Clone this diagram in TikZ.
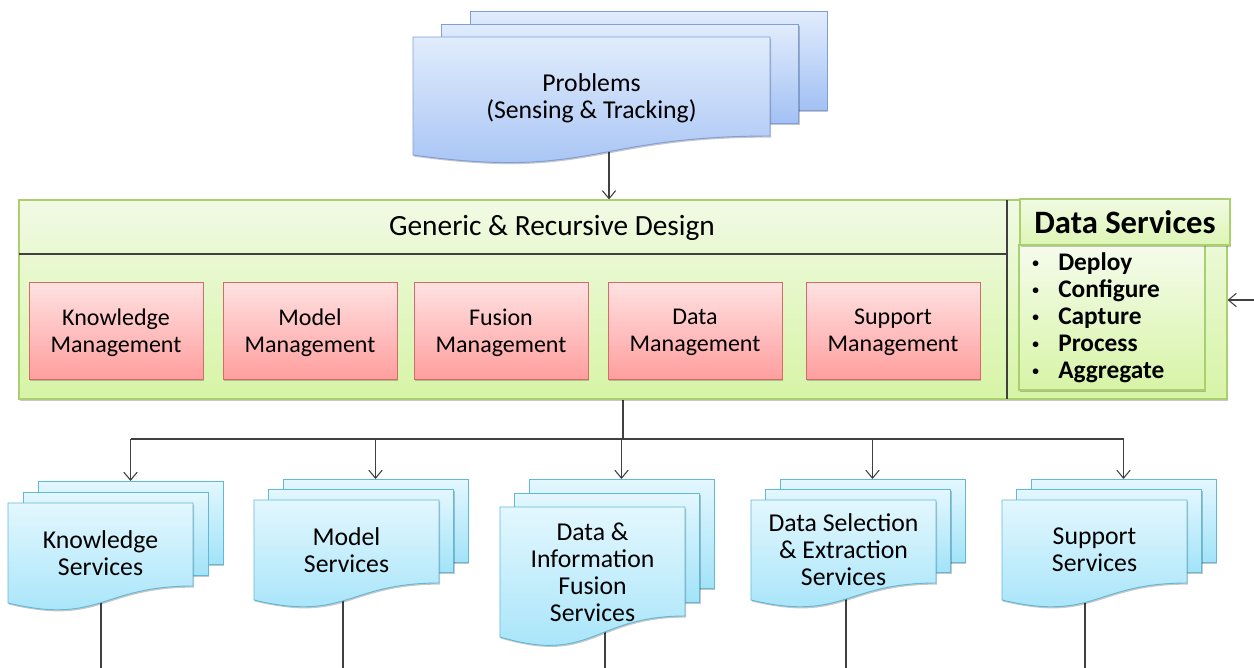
\documentclass[tikz,border=0pt]{standalone}
\usepackage{fontspec}
\setmainfont{Carlito}
\usetikzlibrary{arrows.meta}
\usetikzlibrary{fit}
\usetikzlibrary{shadows}
\definecolor{probTop}{HTML}{E1ECFC}
\definecolor{probBot}{HTML}{A3C1F4}
\definecolor{probLine}{HTML}{7E9ED8}
\definecolor{svcTop}{HTML}{E3F7FE}
\definecolor{svcBot}{HTML}{A2E3F9}
\definecolor{svcLine}{HTML}{62B9D6}
\definecolor{greenTop}{HTML}{F1FAE4}
\definecolor{greenBot}{HTML}{D7F4A6}
\definecolor{greenLine}{HTML}{A9CF6E}
\definecolor{pinkTop}{HTML}{FFE2E2}
\definecolor{pinkBot}{HTML}{FF9E9E}
\definecolor{pinkLine}{HTML}{D46A6A}
\definecolor{wire}{HTML}{404040}
\pgfdeclarelayer{bg}
\pgfsetlayers{bg,main}
\tikzstyle{softshadow}=[drop shadow={shadow xshift=0.8pt,shadow yshift=-1.2pt,fill=black,opacity=0.22}]
\tikzstyle{probdoc}=[draw=probLine,line width=0.7pt,top color=probTop,bottom color=probBot,softshadow]
\tikzstyle{svcdoc}=[draw=svcLine,line width=0.7pt,top color=svcTop,bottom color=svcBot,softshadow]
\tikzstyle{greenbox}=[draw=greenLine,line width=0.8pt,top color=greenTop,bottom color=greenBot,softshadow,inner sep=0pt]
\tikzstyle{mgmtbox}=[draw=pinkLine,line width=0.7pt,top color=pinkTop,bottom color=pinkBot,softshadow,inner sep=0pt]
\tikzstyle{mgmttext}=[align=center,inner sep=0pt,font=\fontsize{18}{20.25}\selectfont]
\tikzstyle{doctext}=[align=center,inner sep=0pt,font=\fontsize{19.3}{20.25}\selectfont]
\tikzstyle{link}=[draw=wire,line width=0.8pt]
\tikzstyle{arrowlink}=[link,-{Straight Barb[length=6pt,width=10pt]}]
\newcommand{\docstack}[9][svcdoc]{% Syntax: [style] {name}{left}{top}{width}{right depth}{left depth}{dx}{dy}
\pgfmathsetmacro{\dip}{#7+1.3*(#7-#6)} % lowest control point of the wavy edge
\foreach \k in {2,1} {
  \path[#1] (#3+\k*#8,#4-\k*#9) rectangle ++(#5,#6);
}
\path[#1] (#3,#4) -- ++(#5,0) -- ++(0,#6)
  .. controls (#3+#5/2,#4+#6) and (#3+#5/2,#4+\dip) .. (#3,#4+#7) -- cycle;
\coordinate (#2-top) at (#3+2*#8+#5/2,#4-2*#9);
\coordinate (#2-mid) at (#3+#5/2,#4+#7/2);
}
\newcommand{\dsitem}[1]{\makebox[19.5pt][l]{\raisebox{2.5pt}{\fontsize{10}{10}\selectfont\textbullet}}#1}
\begin{document}
\begin{tikzpicture}[x=0.75pt,y=-0.75pt]
\useasboundingbox (0,0) rectangle (1254,668);
% problem stack
\docstack[probdoc]{pb}{413}{37}{357}{99}{118}{28.5}{13}
\node[doctext] (pb) at ([yshift=-1.5pt]pb-mid) {Problems\\(Sensing \& Tracking)};
\coordinate (pb-out) at (609,150);
% design block
\node[greenbox,fit={(19,200) (1227,399)}] (design) {};
\draw[link] (19,254) -- (1007,254);
\draw[link] (1007,200) -- (1007,399);
\node[font=\fontsize{22}{24}\selectfont] (dtitle) at (552,228) {Generic \& Recursive Design};
\foreach \nm/\xl/\txt in {km/29/{Knowledge\\Management},mm/223/{Model\\Management},fm/414/{Fusion\\Management},dm/608/{Data\\Management},sm/806/{Support\\Management}} {
  \node[mgmtbox,fit={(\xl,282) (\xl+174,379)}] (\nm) {};
  \node[mgmttext] (\nm-txt) at ([yshift=-1.5pt]\nm.center) {\txt};
}
% data services
\node[greenbox,top color=greenTop!70!white,fit={(1019,245) (1205,390)}] (dsbody) {};
\node[greenbox,top color=greenTop,bottom color=greenBot!85!white,fit={(1020,199) (1230,245)}] (dshead) {};
\node[font=\bfseries\fontsize{24.5}{26}\selectfont] (dstitle) at (dshead.center) {Data Services};
\node[anchor=west,align=left,inner sep=0pt,font=\bfseries\fontsize{19}{20.25}\selectfont] (dslist) at (1032,318)
  {\dsitem{Deploy}\\ \dsitem{Configure}\\ \dsitem{Capture}\\ \dsitem{Process}\\ \dsitem{Aggregate}};
% service stacks
\docstack{ks}{8}{503}{185}{83}{100}{15}{11}
\docstack{ms}{254}{500}{185}{83}{100}{14.5}{10.5}
\docstack{di}{500}{507}{185}{109}{130}{14.5}{14}
\docstack{ds}{751}{500}{185}{83}{100}{14.5}{10.5}
\docstack{su}{1002}{500}{185}{83}{100}{14.5}{10.5}
\node[doctext] (ks) at (ks-mid) {Knowledge\\Services};
\node[doctext] (ms) at (ms-mid) {Model\\Services};
\node[doctext] (di) at (di-mid) {Data \&\\Information\\Fusion\\Services};
\node[doctext] (ds) at (ds-mid) {Data Selection\\\& Extraction\\Services};
\node[doctext] (su) at (su-mid) {Support\\Services};
\coordinate (bus) at (623,439);
\coordinate (feed) at (1254,300);
\begin{pgfonlayer}{bg}
\draw[arrowlink] (pb-out) -- (pb-out |- design.north);
\draw[arrowlink] (feed) -- (feed -| design.east);
\draw[link] (design.south) -- (bus);
\draw[link] (ks-top |- bus) -- (su-top |- bus);
\foreach \nm in {ks,ms,di,ds,su}
  \draw[arrowlink] (\nm-top |- bus) -- (\nm-top);
\foreach \nm/\xx in {ks/101,ms/343,di/605,ds/846,su/1085} {
  \coordinate (\nm-foot) at (\xx,668);
  \draw[link] (\nm-foot |- \nm-mid) -- (\nm-foot);
}
\end{pgfonlayer}
\end{tikzpicture}
\end{document}
